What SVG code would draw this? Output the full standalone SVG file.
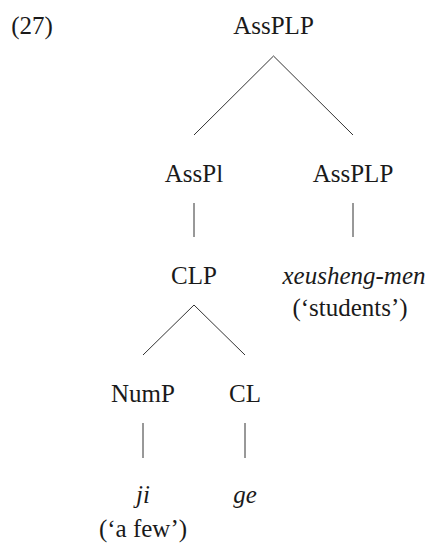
<svg xmlns="http://www.w3.org/2000/svg" width="439" height="556" viewBox="0 0 439 556">
  <style>
    .edge { stroke: #333; stroke-width: 1; fill: none; }
  </style>
  <rect width="439" height="556" fill="#fff"/>
  <g font-family="'Liberation Serif', Tinos, 'Times New Roman', Times, 'Nimbus Roman', FreeSerif, 'Noto Serif', 'DejaVu Serif', serif" font-size="25" fill="#1a1a1a" text-anchor="middle">
    <text x="32" y="34">(27)</text>
    <g id="connectors">
      <line class="edge" x1="273.5" y1="56" x2="194" y2="135"/>
      <line class="edge" x1="273.5" y1="56" x2="353" y2="135"/>
      <line class="edge" x1="194" y1="203" x2="194" y2="237"/>
      <line class="edge" x1="353" y1="203" x2="353" y2="237"/>
      <line class="edge" x1="194" y1="305" x2="143" y2="355"/>
      <line class="edge" x1="194" y1="305" x2="245" y2="355"/>
      <line class="edge" x1="143" y1="423" x2="143" y2="458"/>
      <line class="edge" x1="245" y1="423" x2="245" y2="458"/>
    </g>
    <g id="n-root"><text x="273.5" y="34">AssPLP</text></g>
    <g id="n-asspl"><text x="194" y="182">AssPl</text></g>
    <g id="n-assplp"><text x="353" y="182">AssPLP</text></g>
    <g id="n-clp"><text x="194" y="284">CLP</text></g>
    <g id="n-xeusheng">
      <text font-style="italic" x="354" y="284">xeusheng-men</text>
      <text x="350" y="316">(‘students’)</text>
    </g>
    <g id="n-nump"><text x="143" y="402">NumP</text></g>
    <g id="n-cl"><text x="245" y="402">CL</text></g>
    <g id="n-ji">
      <text font-style="italic" x="143" y="503">ji</text>
      <text x="143" y="537">(‘a few’)</text>
    </g>
    <g id="n-ge"><text font-style="italic" x="245" y="503">ge</text></g>
  </g>
</svg>
